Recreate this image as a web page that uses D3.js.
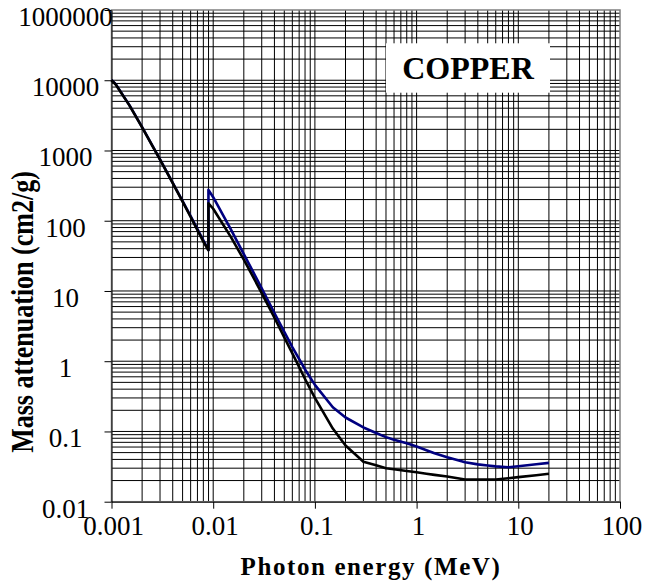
<!DOCTYPE html>
<html>
<head>
<meta charset="utf-8">
<script src="https://cdn.jsdelivr.net/npm/d3@7"></script>
<style>
  html, body { margin: 0; padding: 0; background: #fff; }
  svg { display: block; }
</style>
</head>
<body>
<svg id="chart" width="658" height="585"></svg>
<script>
// Photon energy (MeV)
const energy = [0.001, 0.0011, 0.0015, 0.002, 0.003, 0.004, 0.005, 0.006, 0.008, 0.00898, 0.00898,
  0.01, 0.015, 0.02, 0.03, 0.04, 0.05, 0.06, 0.08, 0.1, 0.15, 0.2, 0.3, 0.4, 0.5, 0.6, 0.8,
  1, 1.25, 1.5, 2, 3, 4, 5, 6, 8, 10, 15, 20];
// Mass attenuation coefficient (blue curve), cm2/g
const attenuation = [10100, 8800, 4418, 2154, 749, 347, 190, 116, 52.6, 38.3, 275,
  216, 74, 33.5, 10.9, 4.86, 2.61, 1.59, 0.763, 0.46, 0.221, 0.158, 0.114, 0.095, 0.083, 0.076, 0.068,
  0.061, 0.054, 0.049, 0.043, 0.0365, 0.034, 0.0327, 0.0318, 0.031, 0.032, 0.0342, 0.0357];
// Mass energy-absorption coefficient (black curve), cm2/g
const absorption = [10000, 8700, 4390, 2140, 743, 343, 187, 113, 50.5, 38, 177,
  148, 57.9, 27.9, 9.35, 4.16, 2.19, 1.29, 0.558, 0.30, 0.11, 0.063, 0.037, 0.033, 0.030, 0.029, 0.0274,
  0.0262, 0.025, 0.0241, 0.0228, 0.0207, 0.0207, 0.0207, 0.0207, 0.0216, 0.0224, 0.0238, 0.025];

const xTickValues = [0.001, 0.01, 0.1, 1, 10, 100];
const xTickLabels = ["0.001", "0.01", "0.1", "1", "10", "100"];
const yTickValues = [0.01, 0.1, 1, 10, 100, 1000, 10000, 100000];
const yTickLabels = ["0.01", "0.1", "1", "10", "100", "1000", "10000", "1000000"];

const title = "COPPER";
const xTitle = "Photon energy (MeV)";
const yTitle = "Mass attenuation (cm2/g)";

const FONT = "Liberation Serif";
const svg = d3.select("#chart");
const L = 111.5, R = 620, T = 10, B = 501.7;

const x = d3.scaleLog().domain([0.001, 100]).range([L, R]);
const y = d3.scaleLog().domain([0.01, 100000]).range([B, T]);

// grid
const grid = svg.append("g").attr("stroke", "#000").attr("stroke-width", 1);
const xGrid = x.ticks().filter(d => d > 0.001 * 1.0001 && d < 100 * 0.9999);
const yGrid = y.ticks().filter(d => d > 0.01 * 1.0001 && d < 100000 * 0.9999);
grid.selectAll("line.v").data(xGrid).join("line")
  .attr("class", "v")
  .attr("x1", d => x(d)).attr("x2", d => x(d))
  .attr("y1", T).attr("y2", B);
grid.selectAll("line.h").data(yGrid).join("line")
  .attr("class", "h")
  .attr("x1", L).attr("x2", R)
  .attr("y1", d => y(d)).attr("y2", d => y(d));

// border (top/right grey)
svg.append("rect")
  .attr("x", L).attr("y", T).attr("width", R - L).attr("height", B - T)
  .attr("fill", "none").attr("stroke", "#808080").attr("stroke-width", 1.5);

// title box
const boxX = 386, boxY = 43.3, boxW = 164, boxH = 49.4;
svg.append("rect").attr("x", boxX).attr("y", boxY).attr("width", boxW).attr("height", boxH).attr("fill", "#fff");
svg.append("text").attr("x", boxX + boxW / 2).attr("y", 79)
  .attr("text-anchor", "middle").attr("font-family", FONT).attr("font-weight", "bold").attr("font-size", 32)
  .text(title);

// curves
const line = d3.line().x(d => x(d[0])).y(d => y(d[1]));
svg.append("path")
  .datum(energy.map((e, i) => [e, attenuation[i]]))
  .attr("d", line).attr("fill", "none").attr("stroke", "#000080")
  .attr("stroke-width", 2.6).attr("stroke-linejoin", "round");
svg.append("path")
  .datum(energy.map((e, i) => [e, absorption[i]]))
  .attr("d", line).attr("fill", "none").attr("stroke", "#000")
  .attr("stroke-width", 2.6).attr("stroke-linejoin", "round");

// axes
const xAxis = d3.axisBottom(x).tickValues(xTickValues)
  .tickFormat((d, i) => xTickLabels[i]).tickSize(7).tickSizeOuter(0);
const gx = svg.append("g").attr("transform", `translate(0,${B})`).call(xAxis)
  .attr("font-family", FONT).attr("font-size", 27);
gx.select(".domain").attr("stroke", "#000");
gx.selectAll(".tick line").attr("stroke", "#000");
gx.selectAll(".tick text")
  .attr("font-family", FONT).attr("font-size", 27).attr("fill", "#000")
  .attr("y", 33.3).attr("dy", null).attr("x", 1.5);

const yAxis = d3.axisLeft(y).tickValues(yTickValues)
  .tickFormat((d, i) => yTickLabels[i]).tickSize(7).tickSizeOuter(0);
const gy = svg.append("g").attr("transform", `translate(${L},0)`).call(yAxis)
  .attr("font-family", FONT).attr("font-size", 27);
gy.select(".domain").attr("stroke", "#000");
gy.selectAll(".tick line").attr("stroke", "#000");
gy.selectAll(".tick text")
  .attr("font-family", FONT).attr("font-size", 27).attr("fill", "#000")
  .attr("text-anchor", "middle").attr("x", 65.5 - L).attr("y", 15.5).attr("dy", null);

// axis titles
svg.append("text").attr("x", 371).attr("y", 575)
  .attr("text-anchor", "middle").attr("font-family", FONT).attr("font-weight", "bold").attr("font-size", 25)
  .attr("letter-spacing", 1.6)
  .text(xTitle);
svg.append("text")
  .attr("transform", "translate(33,312) rotate(-90) scale(1,1.25)")
  .attr("text-anchor", "middle").attr("font-family", FONT).attr("font-weight", "bold").attr("font-size", 26)
  .text(yTitle);
</script>
</body>
</html>
